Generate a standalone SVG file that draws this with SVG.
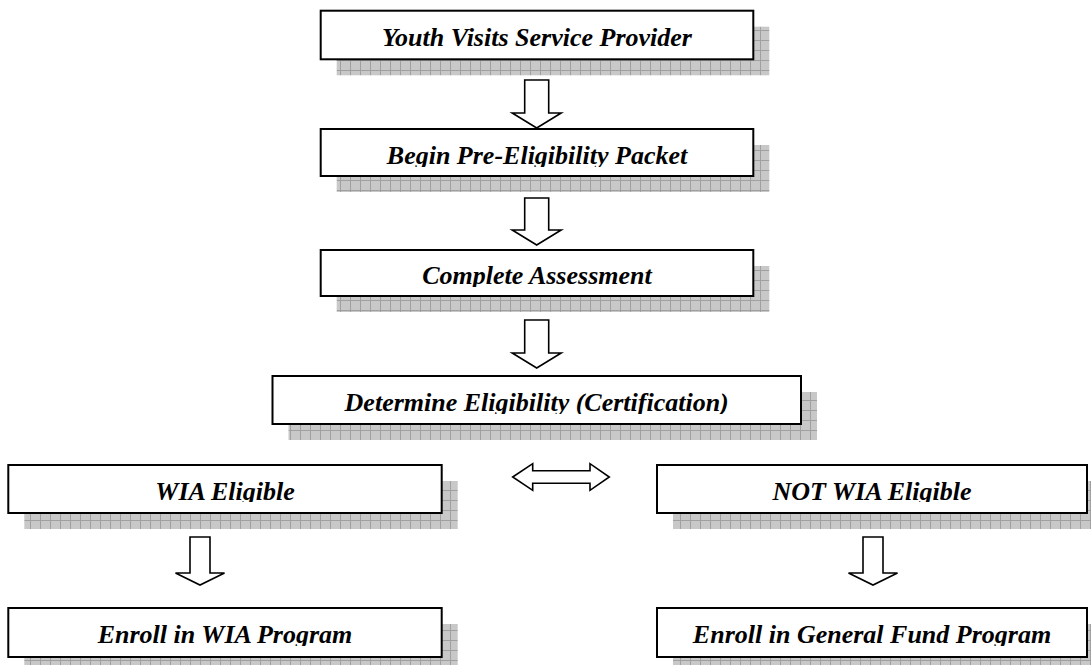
<svg xmlns="http://www.w3.org/2000/svg" width="1091" height="665" viewBox="0 0 1091 665">
<style>
.shadow{fill:url(#grid)}
.box{fill:#fff;stroke:#000;stroke-width:2}
.label{font-family:"Liberation Serif","Times New Roman",serif;font-size:26px;font-weight:bold;font-style:italic;text-anchor:middle;fill:#000}
.arrow{fill:#fff;stroke:#000;stroke-width:1.6;stroke-linejoin:miter}
</style>
<defs>
<pattern id="grid" patternUnits="userSpaceOnUse" width="10" height="10">
<rect width="10" height="10" fill="#c8c8c8"/>
<path d="M0,0.5H10M0.5,0V10" stroke="#a0a0a0" stroke-width="1"/>
</pattern>
<clipPath id="c1"><rect x="0" y="0" width="1091" height="48"/></clipPath>
<clipPath id="c2"><rect x="0" y="100" width="1091" height="67"/></clipPath>
<clipPath id="c3"><rect x="0" y="220" width="1091" height="67"/></clipPath>
<clipPath id="c4"><rect x="0" y="350" width="1091" height="64"/></clipPath>
<clipPath id="c5"><rect x="0" y="440" width="1091" height="62"/></clipPath>
<clipPath id="c6"><rect x="0" y="580" width="1091" height="66"/></clipPath>
</defs>

<g id="connectors">
<path class="arrow" d="M524.7,80H548.7V113L561.2,113L536.7,128L512.2,113L524.7,113Z"/>
<path class="arrow" d="M524.7,198H548.7V230L561.2,230L536.7,245L512.2,230L524.7,230Z"/>
<path class="arrow" d="M524.7,320H548.7V353L561.2,353L536.7,368L512.2,353L524.7,353Z"/>
<path class="arrow" d="M512.7,477L532.7,463.7V470.7H590V463.7L609.3,477L590,490.3V483.3H532.7V490.3Z"/>
<path class="arrow" d="M190,537H210V573L224.5,573L200,585L175.5,573L190,573Z"/>
<path class="arrow" d="M863,537H883V573L897.5,573L873,585L848.5,573L863,573Z"/>
</g>

<g id="youth-visits">
<rect class="shadow" x="336.7" y="26.7" width="432.6" height="48.6"/>
<rect class="box" x="320.7" y="10.7" width="432.6" height="48.6"/>
<text class="label" x="537" y="45.5" clip-path="url(#c1)">Youth Visits Service Provider</text>
</g>

<g id="pre-eligibility">
<rect class="shadow" x="336.7" y="145" width="432.6" height="47"/>
<rect class="box" x="320.7" y="129" width="432.6" height="47"/>
<text class="label" x="537" y="163.5" clip-path="url(#c2)">Begin Pre-Eligibility Packet</text>
</g>

<g id="assessment">
<rect class="shadow" x="336.7" y="266" width="432.6" height="46"/>
<rect class="box" x="320.7" y="250" width="432.6" height="46"/>
<text class="label" x="537" y="284" clip-path="url(#c3)">Complete Assessment</text>
</g>

<g id="determine">
<rect class="shadow" x="288.5" y="392" width="528.5" height="48"/>
<rect class="box" x="272.5" y="376" width="528.5" height="48"/>
<text class="label" x="536.7" y="411" clip-path="url(#c4)">Determine Eligibility (Certification)</text>
</g>

<g id="wia-eligible">
<rect class="shadow" x="24.3" y="481" width="433.4" height="48"/>
<rect class="box" x="8.3" y="465" width="433.4" height="48"/>
<text class="label" x="225" y="499.5" clip-path="url(#c5)">WIA Eligible</text>
</g>

<g id="not-wia-eligible">
<rect class="shadow" x="673" y="481" width="430" height="48"/>
<rect class="box" x="657" y="465" width="430" height="48"/>
<text class="label" x="872" y="499.5" clip-path="url(#c5)">NOT WIA Eligible</text>
</g>

<g id="enroll-wia">
<rect class="shadow" x="24.3" y="624" width="433.4" height="49"/>
<rect class="box" x="8.3" y="608" width="433.4" height="49"/>
<text class="label" x="225" y="643" clip-path="url(#c6)">Enroll in WIA Program</text>
</g>

<g id="enroll-general">
<rect class="shadow" x="673" y="624" width="430" height="49"/>
<rect class="box" x="657" y="608" width="430" height="49"/>
<text class="label" x="872" y="643" clip-path="url(#c6)">Enroll in General Fund Program</text>
</g>
</svg>
